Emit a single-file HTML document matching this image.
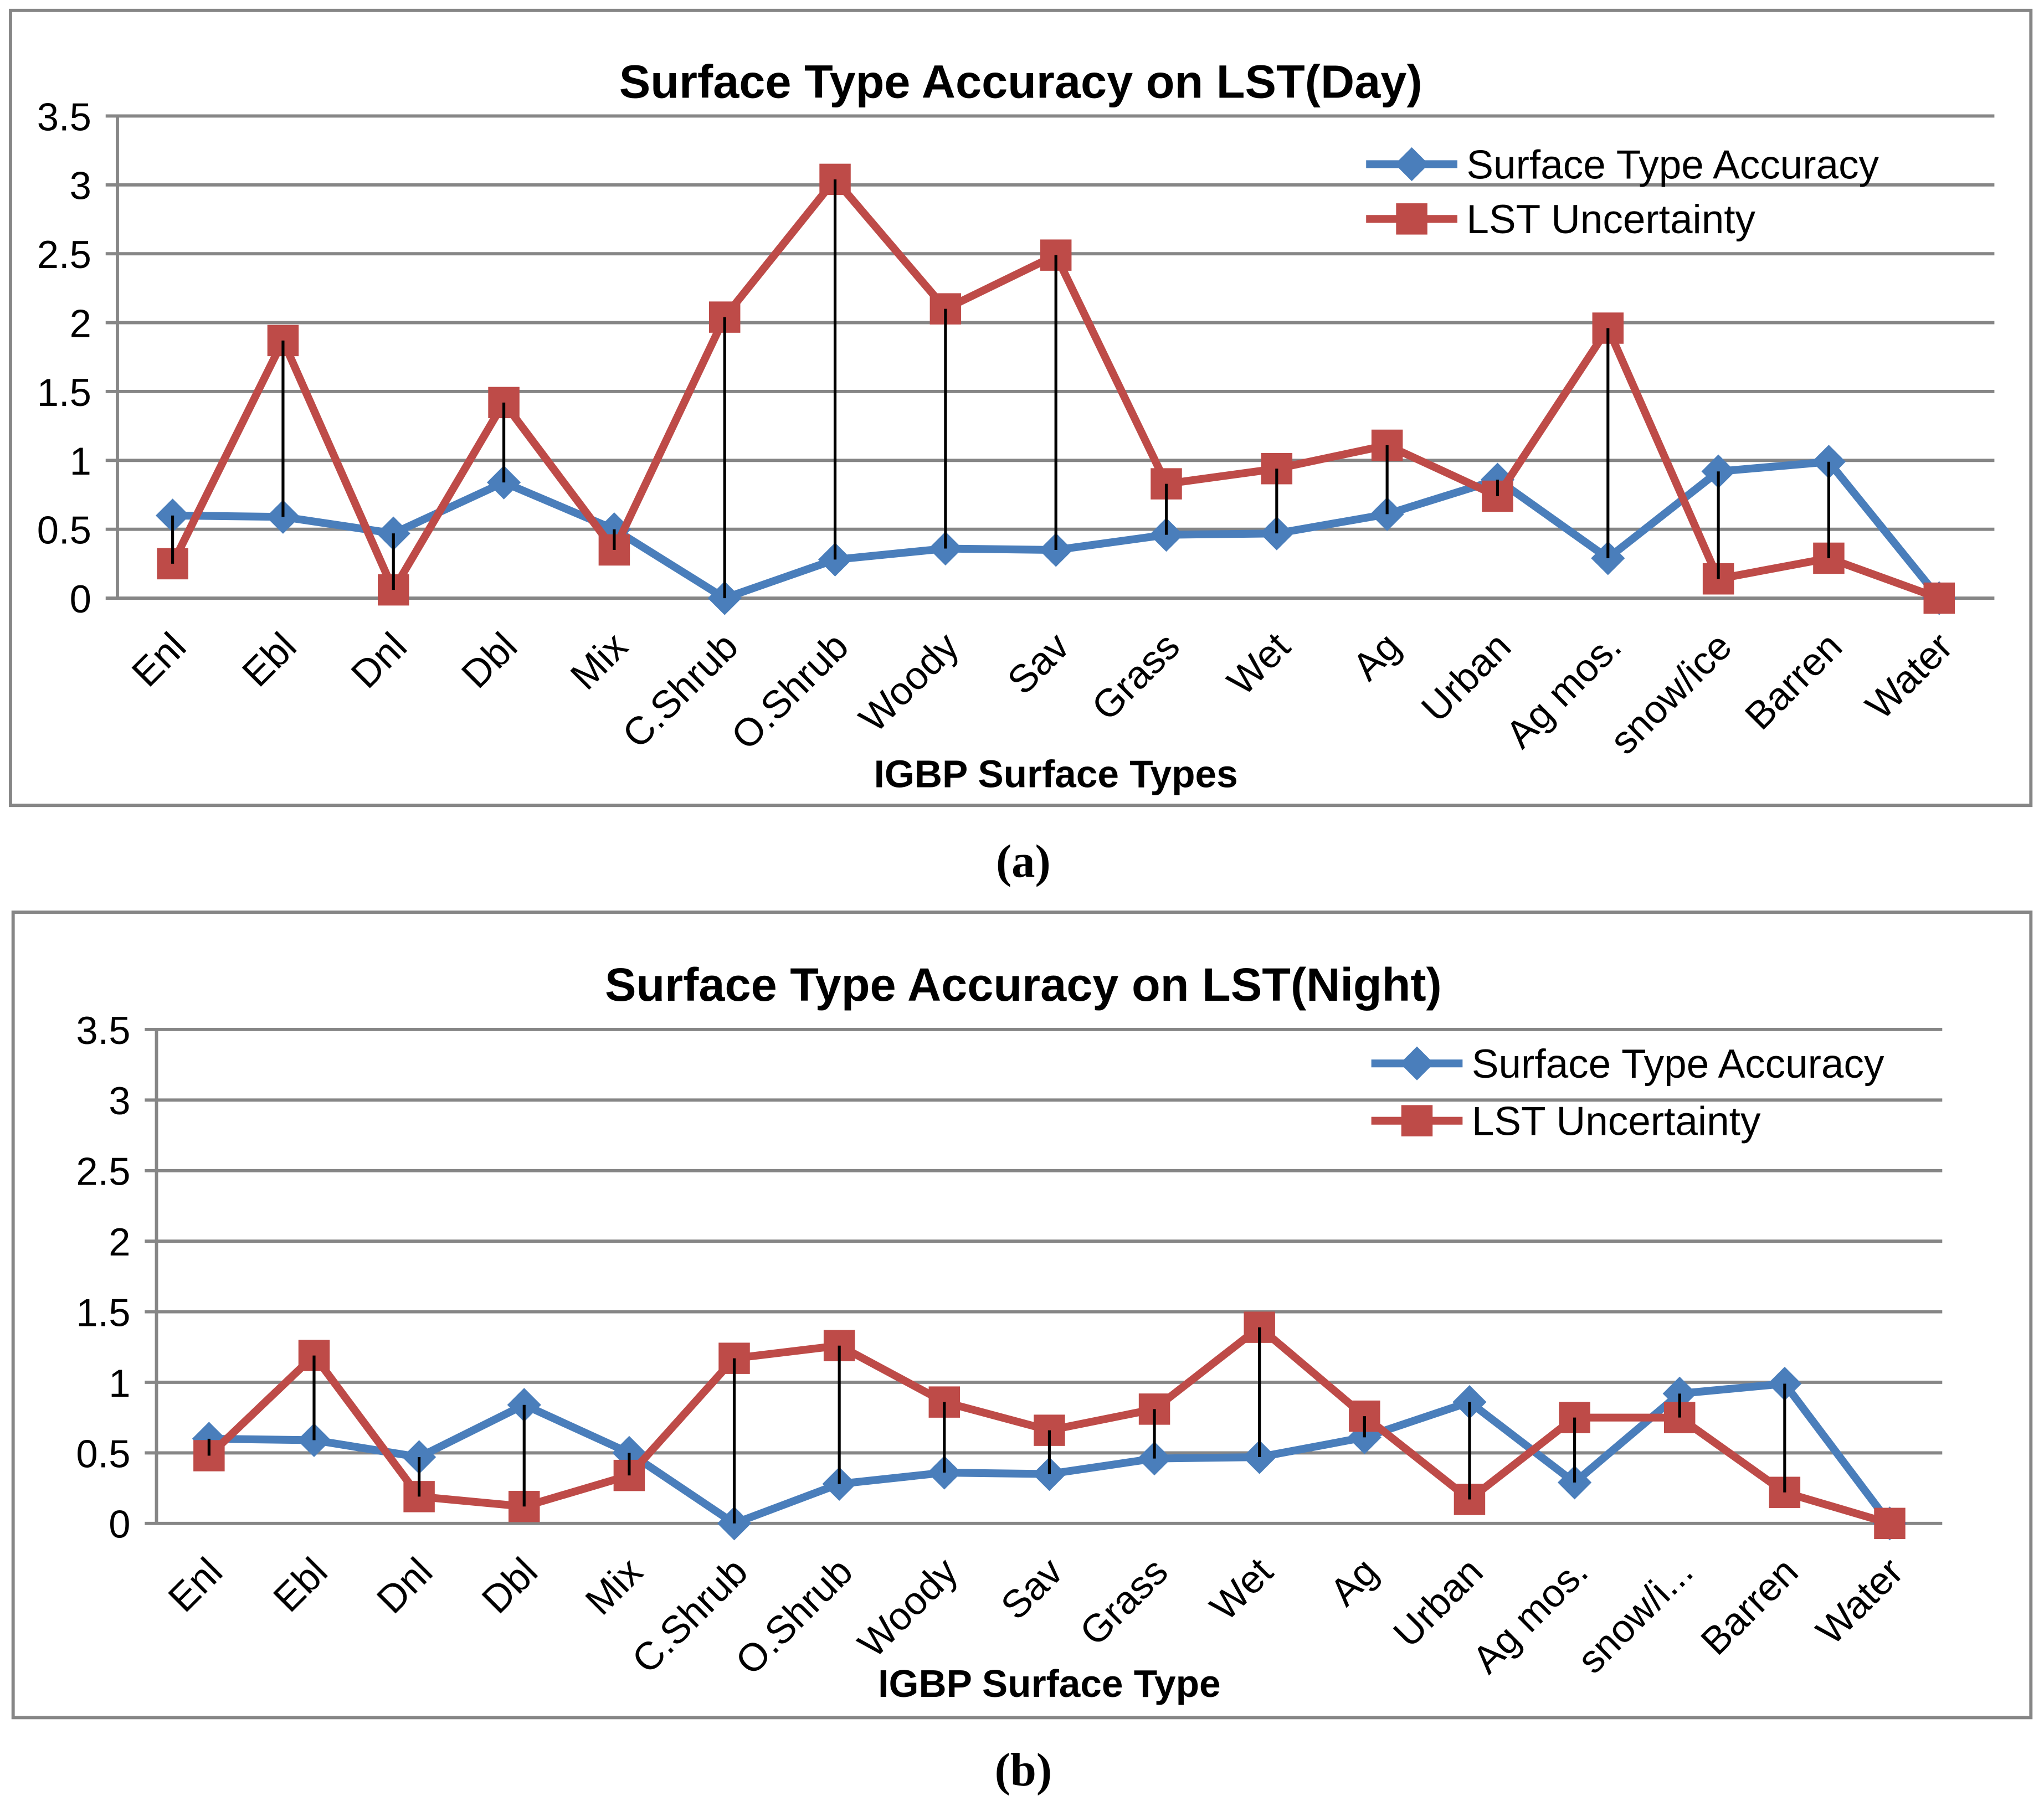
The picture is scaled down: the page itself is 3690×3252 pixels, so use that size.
<!DOCTYPE html>
<html><head><meta charset="utf-8"><style>
html,body{margin:0;padding:0;background:#fff;}
svg{display:block;}
</style></head><body>
<svg id="root" width="3690" height="3252" viewBox="0 0 1568 1382" xmlns="http://www.w3.org/2000/svg" font-family="Liberation Sans, DejaVu Sans, sans-serif">
</svg>
<script>
const categories = ["Enl","Ebl","Dnl","Dbl","Mix","C.Shrub","O.Shrub","Woody","Sav","Grass","Wet","Ag","Urban","Ag mos.","snow/ice","Barren","Water"];
const categoriesB = ["Enl","Ebl","Dnl","Dbl","Mix","C.Shrub","O.Shrub","Woody","Sav","Grass","Wet","Ag","Urban","Ag mos.","snow/i...","Barren","Water"];
const accuracyDay = [0.6,0.59,0.47,0.84,0.5,0,0.28,0.36,0.35,0.46,0.47,0.61,0.86,0.29,0.92,0.99,0];
const uncertaintyDay = [0.25,1.87,0.06,1.42,0.35,2.04,3.04,2.1,2.49,0.83,0.94,1.11,0.74,1.96,0.14,0.29,0];
const accuracyNight = [0.6,0.59,0.47,0.84,0.5,0,0.28,0.36,0.35,0.46,0.47,0.61,0.86,0.29,0.92,0.99,0];
const uncertaintyNight = [0.48,1.19,0.19,0.12,0.34,1.17,1.26,0.86,0.66,0.81,1.39,0.76,0.17,0.75,0.75,0.22,0];
const yTicks = [0,0.5,1,1.5,2,2.5,3,3.5];
const yTickLabels = ["0","0.5","1","1.5","2","2.5","3","3.5"];

const NS="http://www.w3.org/2000/svg";
const root=document.getElementById('root');
function mk(tag,attrs,parent){const e=document.createElementNS(NS,tag);for(const k in attrs)e.setAttribute(k,attrs[k]);(parent||root).appendChild(e);return e;}

function drawChart(cfg){
  const g=mk('g',{});
  
  
  const box=mk('rect',{x:cfg.box[0],y:cfg.box[1],width:cfg.box[2],height:cfg.box[3],fill:'#fff',stroke:'#868686','stroke-width':2.5},g);
  
  
  const x0=cfg.x0,x1=cfg.x1,y0=cfg.y0,yTop=cfg.yTop;
  const ys=v=>y0-(v/3.5)*(y0-yTop);
  const step=(x1-x0)/categories.length;
  const xs=i=>x0+step*(i+0.5);
  yTicks.forEach((t,i)=>{
    const ln=mk('line',{x1:x0-9,x2:x1,y1:ys(t),y2:ys(t),stroke:'#868686','stroke-width':2.5},g);
    
    
    const tx=mk('text',{x:x0-20,y:ys(t)+11,'font-size':30,'text-anchor':'end',fill:'#000'},g);
    tx.textContent=yTickLabels[i];
    
    
  });
  const ax=mk('line',{x1:x0,x2:x0,y1:yTop,y2:y0,stroke:'#868686','stroke-width':2.5},g);
  
  
  cfg.labels.forEach((c,i)=>{
    const tx=mk('text',{x:0,y:0,'font-size':30,'text-anchor':'end',fill:'#000',transform:`translate(${xs(i)+12},${y0+39}) rotate(-45)`},g);
    tx.textContent=c;
    
    
  });
  const ptsA=cfg.acc.map((v,i)=>xs(i)+','+ys(v)).join(' ');
  const ptsU=cfg.unc.map((v,i)=>xs(i)+','+ys(v)).join(' ');
  const la=mk('polyline',{points:ptsA,fill:'none',stroke:'#4a7ebb','stroke-width':6,'stroke-linejoin':'round'},g);
  
  
  cfg.acc.forEach((v,i)=>{
    const d=mk('polygon',{points:`${xs(i)},${ys(v)-13} ${xs(i)+13},${ys(v)} ${xs(i)},${ys(v)+13} ${xs(i)-13},${ys(v)}`,fill:'#4a7ebb'},g);
    
    
  });
  const lu=mk('polyline',{points:ptsU,fill:'none',stroke:'#be4b48','stroke-width':6,'stroke-linejoin':'round'},g);
  
  
  cfg.unc.forEach((v,i)=>{
    const s=mk('rect',{x:xs(i)-12,y:ys(v)-12,width:24,height:24,fill:'#be4b48'},g);
    
    
  });
  cfg.acc.forEach((v,i)=>{
    const l=mk('line',{x1:xs(i),x2:xs(i),y1:ys(v),y2:ys(cfg.unc[i]),stroke:'#000','stroke-width':2.2},g);
    
    
  });
  const t=mk('text',{x:cfg.titleX,y:cfg.titleY,'font-size':36,'font-weight':'bold','text-anchor':'middle'},g);
  t.textContent=cfg.title;
  
  
  const xt=mk('text',{x:cfg.xtX,y:cfg.xtY,'font-size':29.5,'font-weight':'bold','text-anchor':'middle'},g);
  xt.textContent=cfg.xtitle;
  
  
  const lx=cfg.legX, ly=cfg.legY;
  const l1=mk('line',{x1:lx,x2:lx+70,y1:ly,y2:ly,stroke:'#4a7ebb','stroke-width':6},g);
  
  
  const d1=mk('polygon',{points:`${lx+35},${ly-13} ${lx+48},${ly} ${lx+35},${ly+13} ${lx+22},${ly}`,fill:'#4a7ebb'},g);
  
  
  const t1=mk('text',{x:lx+77,y:ly+11,'font-size':31},g);
  t1.textContent='Surface Type Accuracy';
  
  
  const ly2=ly+cfg.legGap;
  const l2=mk('line',{x1:lx,x2:lx+70,y1:ly2,y2:ly2,stroke:'#be4b48','stroke-width':6},g);
  
  
  const s2=mk('rect',{x:lx+23,y:ly2-12,width:24,height:24,fill:'#be4b48'},g);
  
  
  const t2=mk('text',{x:lx+77,y:ly2+11,'font-size':31},g);
  t2.textContent='LST Uncertainty';
  
  
  const cap=mk('text',{x:785,y:cfg.capY,'font-size':36,'font-weight':'bold','text-anchor':'middle',style:'font-family:"Liberation Serif",serif'},root);
  cap.textContent=cfg.caption;
  
  
}
drawChart({name:'chart-day',box:[8,8,1550,610],x0:90,x1:1530,y0:459,yTop:89,labels:categories,acc:accuracyDay,unc:uncertaintyDay,
  title:'Surface Type Accuracy on LST(Day)',titleX:783,titleY:75,xtitle:'IGBP Surface Types',xtX:810,xtY:604,
  legX:1048,legY:126,legGap:42,caption:'(a)',capY:673});
drawChart({name:'chart-night',box:[10,700,1548,618],x0:120,x1:1490,y0:1169,yTop:790,labels:categoriesB,acc:accuracyNight,unc:uncertaintyNight,
  title:'Surface Type Accuracy on LST(Night)',titleX:785,titleY:768,xtitle:'IGBP Surface Type',xtX:805,xtY:1302,
  legX:1052,legY:816,legGap:44,caption:'(b)',capY:1370});
</script>
</body></html>
